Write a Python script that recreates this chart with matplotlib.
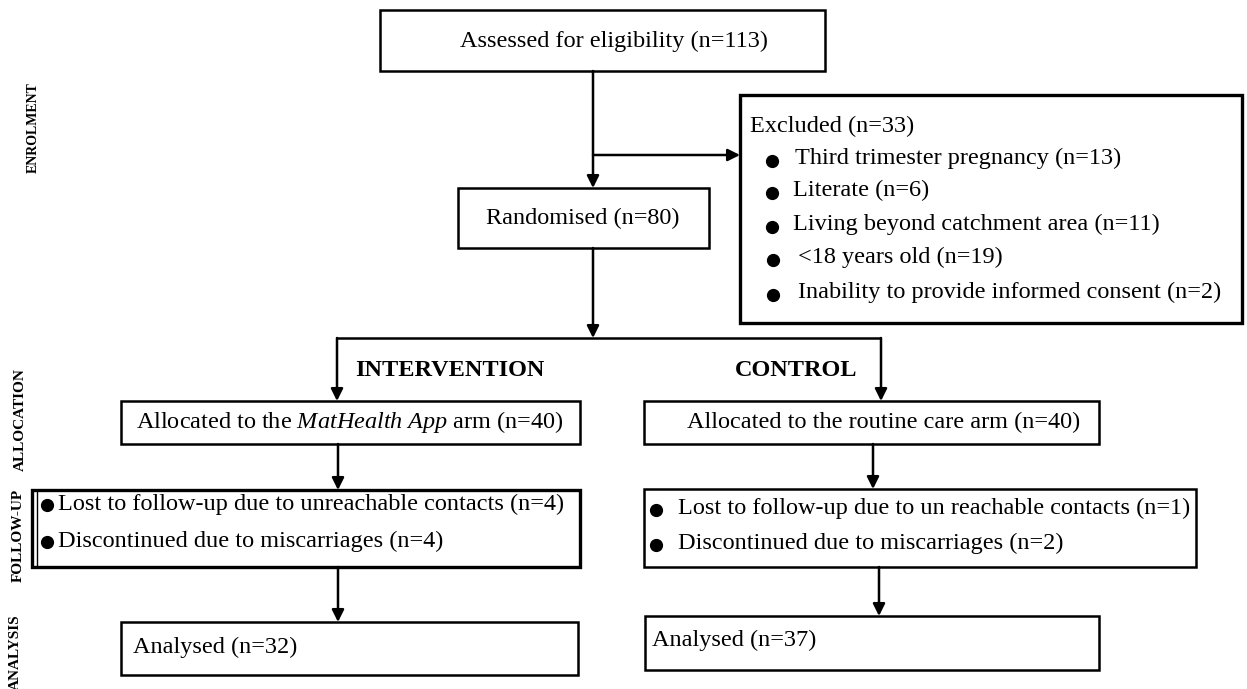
import matplotlib.pyplot as plt
from matplotlib.patches import Rectangle

plt.rcParams['font.family'] = ['Liberation Serif', 'DejaVu Serif']
plt.rcParams['mathtext.fontset'] = 'custom'
plt.rcParams['mathtext.rm'] = 'Liberation Serif'
plt.rcParams['mathtext.it'] = 'Liberation Serif:italic'

# Flow numbers
assessed_n = 113
excluded_n = 33
exclusion_reasons = ['Third trimester pregnancy', 'Literate', 'Living beyond catchment area',
                     '<18 years old', 'Inability to provide informed consent']
exclusion_counts = [13, 6, 11, 19, 2]
randomised_n = 80
arm_names = ['INTERVENTION', 'CONTROL']
allocated_text = ['Allocated to the $\\mathit{MatHealth\\ App}$ arm', 'Allocated to the routine care arm']
allocated_n = [40, 40]
lost_text = ['Lost to follow-up due to unreachable contacts', 'Lost to follow-up due to un reachable contacts']
lost_n = [4, 1]
miscarriage_n = [4, 2]
analysed_n = [32, 37]
phase_labels = ['ENROLMENT', 'ALLOCATION', 'FOLLOW-UP', 'ANALYSIS']

fig = plt.figure(figsize=(12.47, 6.89), dpi=100)
ax = fig.add_axes([0, 0, 1, 1])
ax.set_xlim(0, 1247)
ax.set_ylim(689, 0)
ax.axis('off')

FS = 17.5
LW = 1.8


def box(x0, y0, x1, y1, lw=1.8):
    ax.add_patch(Rectangle((x0, y0), x1 - x0, y1 - y0, fill=False, ec='black', lw=lw))


def line(xs, ys):
    ax.plot(xs, ys, color='black', lw=LW, solid_capstyle='butt')


def arrow(x0, y0, x1, y1):
    ax.annotate('', xy=(x1, y1), xytext=(x0, y0),
                arrowprops=dict(arrowstyle='-|>', color='black', lw=LW,
                                mutation_scale=18, shrinkA=0, shrinkB=0))


def bullet(x, y):
    ax.plot([x], [y], 'o', color='black', markersize=8.5)


# Enrolment
box(380, 10, 825, 71)
ax.text(614, 41, f'Assessed for eligibility (n={assessed_n})', ha='center', va='center', fontsize=FS)
arrow(593, 71, 593, 188)
arrow(593, 155, 740, 155)

box(458, 188, 709, 248)
ax.text(583, 218, f'Randomised (n={randomised_n})', ha='center', va='center', fontsize=FS)

box(740, 95, 1242, 323, lw=2.4)
ax.text(750, 126, f'Excluded (n={excluded_n})', ha='left', va='center', fontsize=FS)
bullet_y = [161, 193, 227, 260, 295]
bullet_x = [772, 772, 772, 773, 773]
text_x = [795, 793, 793, 798, 798]
for reason, n, by, bx, tx in zip(exclusion_reasons, exclusion_counts, bullet_y, bullet_x, text_x):
    bullet(bx, by)
    ax.text(tx, by - 3, f'{reason} (n={n})', ha='left', va='center', fontsize=FS)

# Split into arms
arrow(593, 248, 593, 338)
line([337, 881], [338, 338])
arrow(337, 338, 337, 401)
arrow(881, 338, 881, 401)
ax.text(450, 370, arm_names[0], ha='center', va='center', fontsize=FS, fontweight='bold')
ax.text(796, 370, arm_names[1], ha='center', va='center', fontsize=FS, fontweight='bold')

# Allocation
box(121, 401, 580, 444)
ax.text(350, 422, f'{allocated_text[0]} (n={allocated_n[0]})', ha='center', va='center', fontsize=FS)
box(644, 401, 1099, 444)
ax.text(884, 422, f'{allocated_text[1]} (n={allocated_n[1]})', ha='center', va='center', fontsize=FS)

# Follow-up
arrow(338, 444, 338, 490)
arrow(873, 444, 873, 489)
box(32, 490, 580, 567, lw=2.4)
ax.plot([36.5, 36.5], [492, 565], color='black', lw=1.0)
bullet(47, 505)
ax.text(58, 504, f'{lost_text[0]} (n={lost_n[0]})', ha='left', va='center', fontsize=FS)
bullet(47, 542)
ax.text(58, 541, f'Discontinued due to miscarriages (n={miscarriage_n[0]})', ha='left', va='center', fontsize=FS)
box(644, 489, 1196, 567)
bullet(656, 510)
ax.text(678, 508, f'{lost_text[1]} (n={lost_n[1]})', ha='left', va='center', fontsize=FS)
bullet(656, 545)
ax.text(678, 543, f'Discontinued due to miscarriages (n={miscarriage_n[1]})', ha='left', va='center', fontsize=FS)

# Analysis
arrow(338, 567, 338, 622)
arrow(879, 567, 879, 616)
box(121, 622, 578, 675)
ax.text(133, 647, f'Analysed (n={analysed_n[0]})', ha='left', va='center', fontsize=FS)
box(645, 616, 1099, 670)
ax.text(652, 640, f'Analysed (n={analysed_n[1]})', ha='left', va='center', fontsize=FS)

# Phase labels on the left
phase_pos = [(33, 128), (20, 420), (18, 535), (15, 652)]
phase_fs = [10, 11, 11, 11]
for lab, (px, py), pfs in zip(phase_labels, phase_pos, phase_fs):
    ax.text(px, py, lab, rotation=90, ha='center', va='center', fontsize=pfs, fontweight='bold')

fig.savefig('out.png', dpi=100)
